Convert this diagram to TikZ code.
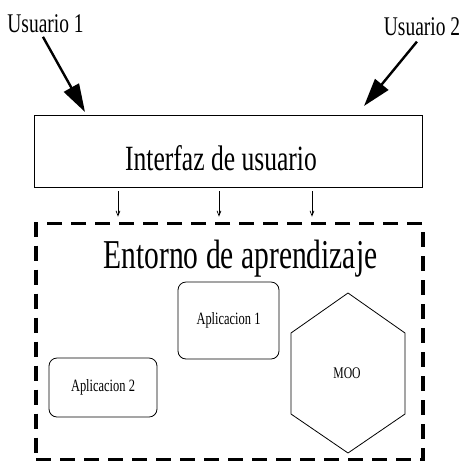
\documentclass[tikz,border=0pt]{standalone}
\usepackage{fontspec}
\setmainfont[FakeStretch=0.72]{Liberation Serif}
\usepackage{tikz}
\usetikzlibrary{arrows.meta, positioning, calc}
\tikzstyle{box} = [rectangle, draw=black, line width=0.8pt, inner sep=0pt]
\tikzstyle{appbox} = [box, rounded corners=8pt, font=\fontsize{17.3}{19}\selectfont]
\tikzstyle{envbox} = [rectangle, draw=black, line width=3.6pt,
    dash pattern=on 15pt off 9pt, inner sep=0pt]
\tikzstyle{user} = [font=\fontsize{27}{30}\selectfont, inner sep=0pt]
\tikzstyle{bigarrow} = [line width=2.4pt, -{Triangle[length=28pt,width=17pt]}]
\tikzstyle{arrow} = [line width=0.7pt, -{Straight Barb[length=5pt,width=4pt]}]

\begin{document}
\begin{tikzpicture}[x=1pt, y=-1pt]
  \useasboundingbox (0,0) rectangle (462,461);
  \node[user, anchor=base](u1) at (45.5,32){Usuario 1};
  \node[user, anchor=base](u2) at (422,35){Usuario 2};
  \node[box, minimum width=388pt, minimum height=72pt](iface) at (228,151){};
  \node[anchor=base, inner sep=0pt, font=\fontsize{35.5}{39}\selectfont](ifacetxt)
    at (221,170){Interfaz de usuario};
  \node[envbox, minimum width=387pt, minimum height=236pt](env) at (229.5,341.5){};
  \node[anchor=base, inner sep=0pt, font=\fontsize{41}{45}\selectfont](title)
    at (240.5,268){Entorno de aprendizaje};
  \node[appbox, minimum width=101pt, minimum height=77pt](app1) at (228.5,320.5)
    {Aplicacion 1};
  \node[appbox, minimum width=108pt, minimum height=59pt](app2) at (103,387.5)
    {Aplicacion 2};
  \node[inner sep=0pt, font=\fontsize{16.2}{18}\selectfont](moo) at (347,373){MOO};
  \draw[line width=0.8pt] (moo) ++(1,-80) -- ++(57,40) -- ++(0,81) -- ++(-57,39)
    -- ++(-57,-39) -- ++(0,-81) -- cycle;

  \coordinate (tip1) at (85,112);
  \coordinate (tip2) at (364,106);
  \draw[bigarrow, shorten <=5pt]([xshift=-5pt]u1.south) -- (tip1);
  \draw[bigarrow, shorten <=8pt]([xshift=0pt]u2.south) -- (tip2);

  \draw[arrow, shorten <=4pt, shorten >=5pt]([xshift=-110pt]iface.south)
    -- ([xshift=-110pt]iface.south |- env.north);
  \draw[arrow, shorten <=4pt, shorten >=5pt]([xshift=-9pt]iface.south)
    -- ([xshift=-9pt]iface.south |- env.north);
  \draw[arrow, shorten <=4pt, shorten >=5pt]([xshift=84pt]iface.south)
    -- ([xshift=84pt]iface.south |- env.north);
\end{tikzpicture}
\end{document}
